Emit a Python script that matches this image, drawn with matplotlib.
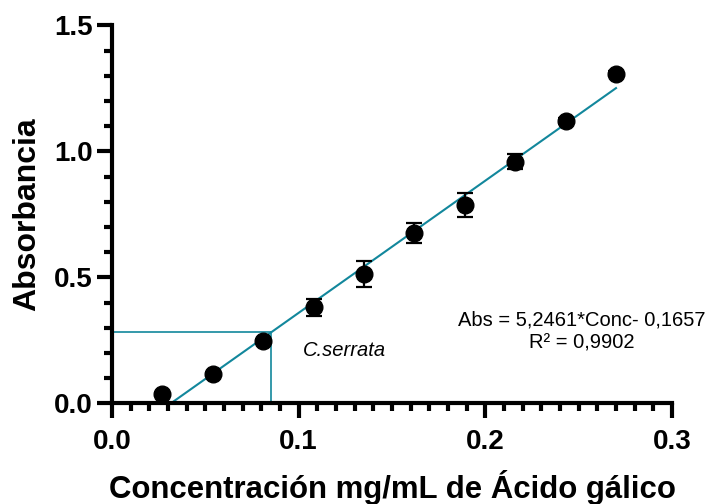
import matplotlib
matplotlib.use("Agg")
import matplotlib.pyplot as plt
from matplotlib.ticker import MultipleLocator
import numpy as np

plt.rcParams['font.family'] = ['Liberation Sans', 'DejaVu Sans']

# Data
conc = [0.027, 0.054, 0.081, 0.108, 0.135, 0.162, 0.189, 0.216, 0.243, 0.270]
absorb = [0.037, 0.116, 0.248, 0.381, 0.513, 0.677, 0.787, 0.959, 1.120, 1.307]
err = [0.008, 0.008, 0.008, 0.033, 0.052, 0.040, 0.046, 0.030, 0.012, 0.010]

slope = 5.2461
intercept = -0.1657
r2_text = "0,9902"
sample_abs = 0.281
sample_name = "C.serrata"

x_ticks = [0.0, 0.1, 0.2, 0.3]
y_ticks = [0.0, 0.5, 1.0, 1.5]

line_color = '#12879c'

fig = plt.figure(figsize=(7.10, 5.04), dpi=100)
ax = fig.add_axes([0.1577, 0.1998, 0.7888, 0.75])

# regression line from x-intercept to last point
x_start = -intercept / slope
x_end = conc[-1]
xs = np.array([x_start, x_end])
ax.plot(xs, slope * xs + intercept, color=line_color, lw=1.5, zorder=2, clip_on=False)

# sample interpolation lines
sample_conc = (sample_abs - intercept) / slope
ax.plot([0, sample_conc], [sample_abs, sample_abs], color=line_color, lw=1.2, zorder=2)
ax.plot([sample_conc, sample_conc], [0, sample_abs], color=line_color, lw=1.2, zorder=2)

ax.errorbar(conc, absorb, yerr=err, fmt='o', color='black', ms=12,
            elinewidth=1.6, capsize=5.5, capthick=1.6, zorder=3, clip_on=False)

ax.text(0.1023, 0.2115, sample_name, style='italic', fontsize=14.5, va='center', ha='left')
ax.text(0.2516, 0.2855, f"Abs = {str(slope).replace('.', ',')}*Conc- {str(-intercept).replace('.', ',')}\nR² = {r2_text}",
        fontsize=14.5, ha='center', va='center', multialignment='center', linespacing=1.25)

ax.set_xlim(0, 0.3)
ax.set_ylim(0, 1.5)
ax.set_xticks(x_ticks)
ax.set_yticks(y_ticks)
ax.set_xticklabels([f"{v:.1f}" for v in x_ticks])
ax.set_yticklabels([f"{v:.1f}" for v in y_ticks])
ax.xaxis.set_minor_locator(MultipleLocator(0.01))
ax.yaxis.set_minor_locator(MultipleLocator(0.1))

for s in ['top', 'right']:
    ax.spines[s].set_visible(False)
for s in ['left', 'bottom']:
    ax.spines[s].set_linewidth(3)

ax.tick_params(axis='both', which='major', length=10.5, width=3, labelsize=20)
ax.tick_params(axis='both', which='minor', length=6, width=3)
ax.tick_params(axis='x', which='major', pad=8)
ax.tick_params(axis='y', which='major', pad=3.5)
for lab in ax.get_xticklabels() + ax.get_yticklabels():
    lab.set_fontweight('bold')

ax.set_xlabel("Concentración mg/mL de Ácido gálico", fontsize=22.4, fontweight='bold', labelpad=11)
ax.set_ylabel("Absorbancia", fontsize=23, fontweight='bold', labelpad=8)

fig.savefig("out.png", dpi=100)
